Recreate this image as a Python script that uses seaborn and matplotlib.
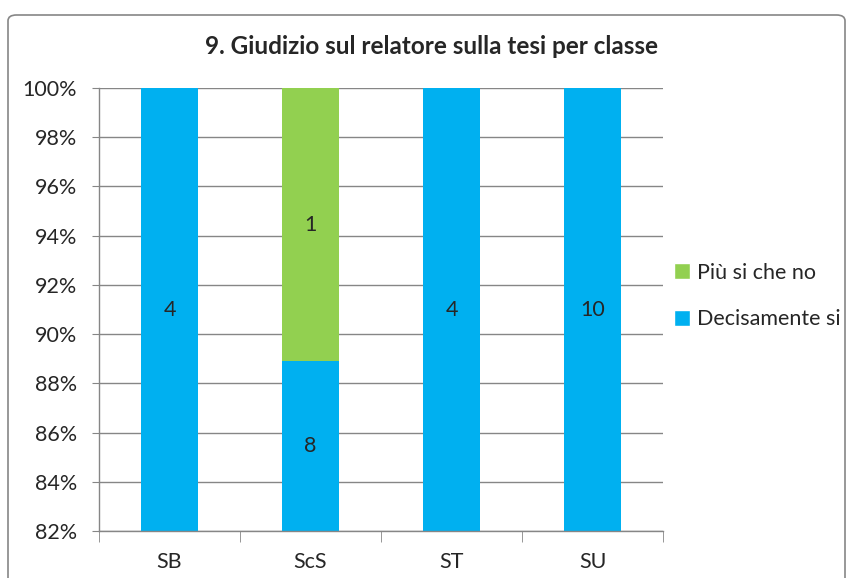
import matplotlib
matplotlib.use("Agg")
import matplotlib.pyplot as plt
import seaborn as sns
import pandas as pd
import numpy as np
from matplotlib.patches import FancyBboxPatch, Patch

categories = ["SB", "ScS", "ST", "SU"]
decisamente_si = [4, 8, 4, 10]
piu_si_che_no = [0, 1, 0, 0]
series_names = ["Più si che no", "Decisamente si"]
title = "9. Giudizio sul relatore sulla tesi per classe"
yticks = [82, 84, 86, 88, 90, 92, 94, 96, 98, 100]

blue = "#00B0F0"
green = "#92D050"
fs = 15.5

sns.set_style("white")
plt.rcParams["font.family"] = ["Lato", "DejaVu Sans"]

tot = np.array(decisamente_si) + np.array(piu_si_che_no)
pct_dec = 100 * np.array(decisamente_si) / tot
df = pd.DataFrame({"cat": categories, "total": 100.0 * np.ones(len(categories)), "dec": pct_dec})

fig = plt.figure(figsize=(8.48, 5.78), dpi=100)
ax = fig.add_axes([99 / 848, 1 - 531 / 578, (663 - 99) / 848, (531 - 88) / 578])

sns.barplot(data=df, x="cat", y="total", color=green, width=0.4, saturation=1,
            linewidth=0, ax=ax)
sns.barplot(data=df, x="cat", y="dec", color=blue, width=0.4, saturation=1,
            linewidth=0, ax=ax)

ax.set_ylim(82, 100)
ax.set_xlim(-0.5, len(categories) - 0.5)
ax.set_yticks(yticks)
ax.set_yticklabels([f"{v}%" for v in yticks], fontsize=fs)
ax.set_xlabel("")
ax.set_ylabel("")
ax.grid(axis="y", color="#868686", linewidth=1)
ax.set_axisbelow(True)
for s in ["top", "right"]:
    ax.spines[s].set_visible(False)
for s in ["left", "bottom"]:
    ax.spines[s].set_color("#868686")
    ax.spines[s].set_linewidth(1)
ax.tick_params(axis="y", length=5, color="#868686", direction="out", left=True, pad=11)
ax.set_xticks(range(len(categories)))
ax.set_xticklabels(categories, fontsize=fs)
ax.tick_params(axis="x", which="major", length=0, pad=15)
ax.set_xticks(np.arange(-0.5, len(categories), 1), minor=True)
ax.tick_params(axis="x", which="minor", length=8, color="#868686", bottom=True)

# data labels
for i in range(len(categories)):
    d = decisamente_si[i]
    p = piu_si_che_no[i]
    top_dec = pct_dec[i]
    ax.text(i, (82 + top_dec) / 2, str(d), ha="center", va="center", fontsize=fs)
    if p > 0:
        ax.text(i, (top_dec + 100) / 2, str(p), ha="center", va="center", fontsize=fs)

fig.text(431 / 848, 1 - 47 / 578, title, ha="center", va="center",
         fontsize=17.5, fontweight="bold")

handles = [Patch(facecolor=green), Patch(facecolor=blue)]
leg = fig.legend(handles, series_names, loc="center left",
                 bbox_to_anchor=(674 / 848, 1 - 296 / 578), frameon=False,
                 fontsize=fs, handlelength=0.75, handleheight=0.75,
                 handletextpad=0.3, labelspacing=1.25, borderaxespad=0,
                 borderpad=0)

frame = FancyBboxPatch((8 / 848, -0.02), (845 - 8) / 848, 1 - 15 / 578 + 0.02,
                       boxstyle="round,pad=0,rounding_size=0.01",
                       transform=fig.transFigure, fill=False,
                       edgecolor="#868686", linewidth=1.2)
fig.patches.append(frame)

fig.savefig("out.png", dpi=100)
